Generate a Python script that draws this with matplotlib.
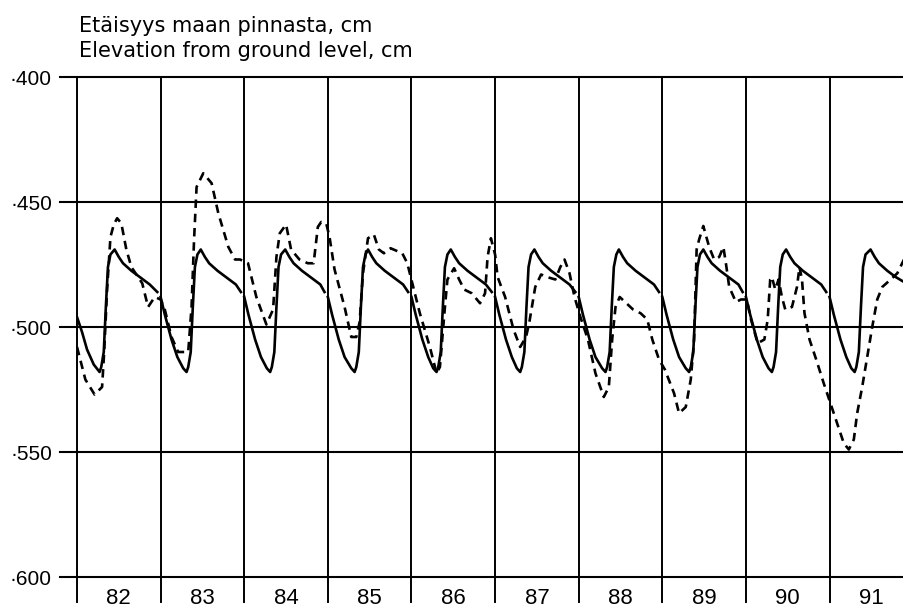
import matplotlib.pyplot as plt

# years on x axis, elevation (cm, negative = below ground) on y axis
years = [82, 83, 84, 85, 86, 87, 88, 89, 90, 91]
year_labels = ['82', '83', '84', '85', '86', '87', '88', '89', '90', '91']
y_ticks = [-400, -450, -500, -550, -600]
y_tick_labels = ['·400', '·450', '·500', '·550', '·600']

# solid curve, read year by year
solid_x = [
    [82.00, 82.06, 82.12, 82.20, 82.27, 82.29, 82.32, 82.345, 82.37, 82.40, 82.45, 82.50, 82.55, 82.65, 82.75, 82.87, 82.96],
    [83.00, 83.05, 83.13, 83.20, 83.27, 83.31, 83.33, 83.36, 83.385, 83.41, 83.44, 83.48, 83.53, 83.58, 83.68, 83.78, 83.90, 83.96],
    [84.00, 84.05, 84.13, 84.20, 84.27, 84.31, 84.33, 84.36, 84.385, 84.41, 84.44, 84.49, 84.54, 84.59, 84.69, 84.79, 84.91, 84.96],
    [85.00, 85.05, 85.13, 85.20, 85.28, 85.32, 85.34, 85.37, 85.395, 85.42, 85.45, 85.48, 85.53, 85.58, 85.68, 85.78, 85.90, 85.96],
    [86.00, 86.05, 86.13, 86.20, 86.26, 86.30, 86.32, 86.35, 86.375, 86.40, 86.43, 86.47, 86.52, 86.57, 86.67, 86.77, 86.89, 86.96],
    [87.00, 87.05, 87.13, 87.20, 87.26, 87.30, 87.32, 87.35, 87.375, 87.40, 87.43, 87.47, 87.52, 87.57, 87.67, 87.77, 87.89, 87.96],
    [88.00, 88.05, 88.13, 88.20, 88.28, 88.32, 88.34, 88.37, 88.395, 88.42, 88.45, 88.48, 88.53, 88.58, 88.68, 88.78, 88.90, 88.96],
    [89.00, 89.05, 89.13, 89.20, 89.28, 89.32, 89.34, 89.37, 89.395, 89.42, 89.45, 89.49, 89.54, 89.59, 89.69, 89.79, 89.91, 89.96],
    [90.00, 90.05, 90.13, 90.20, 90.27, 90.31, 90.33, 90.36, 90.385, 90.41, 90.44, 90.48, 90.53, 90.58, 90.68, 90.78, 90.90, 90.96],
    [91.00, 91.05, 91.13, 91.20, 91.26, 91.30, 91.32, 91.35, 91.375, 91.40, 91.43, 91.49, 91.54, 91.59, 91.69, 91.79, 91.89],
]
solid_y = [
    [-496, -502, -509, -515, -518, -516, -510, -492, -476, -471, -469, -472, -474.5, -477.5, -480, -483, -486],
    [-488, -495, -505, -512, -516.5, -518, -516, -510, -492, -476, -471, -469, -472, -474.5, -477.5, -480, -483, -486],
    [-488, -495, -505, -512, -516.5, -518, -516, -510, -492, -476, -471, -469, -472, -474.5, -477.5, -480, -483, -486],
    [-488, -495, -505, -512, -516.5, -518, -516, -510, -492, -476, -471, -469, -472, -474.5, -477.5, -480, -483, -486],
    [-488, -495, -505, -512, -516.5, -518, -516, -510, -492, -476, -471, -469, -472, -474.5, -477.5, -480, -483, -486],
    [-488, -495, -505, -512, -516.5, -518, -516, -510, -492, -476, -471, -469, -472, -474.5, -477.5, -480, -483, -486],
    [-488, -495, -505, -512, -516.5, -518, -516, -510, -492, -476, -471, -469, -472, -474.5, -477.5, -480, -483, -486],
    [-488, -495, -505, -512, -516.5, -518, -516, -510, -492, -476, -471, -469, -472, -474.5, -477.5, -480, -483, -486],
    [-488, -495, -505, -512, -516.5, -518, -516, -510, -492, -476, -471, -469, -472, -474.5, -477.5, -480, -483, -486],
    [-488, -495, -505, -512, -516.5, -518, -516, -510, -492, -476, -471, -469, -472, -474.5, -477.5, -480, -482],
]

# dashed curve (observed)
dashed_x = [82.00, 82.10, 82.21, 82.30, 82.325, 82.36, 82.40, 82.44, 82.48, 82.53, 82.59, 82.65, 82.78, 82.85, 82.93,
            83.00, 83.05, 83.13, 83.21, 83.33, 83.37, 83.40, 83.43, 83.51, 83.61, 83.69, 83.81, 83.89, 83.95,
            84.045, 84.145, 84.265, 84.345, 84.385, 84.425, 84.50, 84.56, 84.66, 84.76, 84.83, 84.88, 84.92, 84.98,
            85.02, 85.08, 85.20, 85.28, 85.34, 85.38, 85.42, 85.48, 85.55, 85.61, 85.67, 85.75, 85.89, 85.95,
            86.01, 86.10, 86.22, 86.30, 86.34, 86.40, 86.43, 86.51, 86.57, 86.63, 86.72, 86.82, 86.88, 86.91, 86.95,
            87.00, 87.03, 87.12, 87.22, 87.30, 87.37, 87.41, 87.44, 87.48, 87.55, 87.62, 87.72, 87.78, 87.83, 87.89, 87.95,
            88.02, 88.11, 88.20, 88.30, 88.36, 88.40, 88.44, 88.49, 88.57, 88.65, 88.74, 88.82, 88.88, 88.96,
            89.03, 89.14, 89.20, 89.28, 89.34, 89.38, 89.41, 89.44, 89.49, 89.56, 89.62, 89.68, 89.73, 89.76, 89.80, 89.88, 89.94,
            90.01, 90.06, 90.14, 90.22, 90.26, 90.29, 90.31, 90.35, 90.39, 90.43, 90.47, 90.55, 90.61, 90.64, 90.67, 90.70, 90.76, 90.84, 90.93,
            91.01, 91.09, 91.17, 91.23, 91.29, 91.33, 91.39, 91.45, 91.51, 91.57, 91.63, 91.73, 91.81, 91.89]
dashed_y = [-508, -521, -527, -524, -510, -485, -464, -459, -456.5, -458.5, -469, -476, -482.5, -492, -488,
            -489, -493, -504, -510, -510, -492, -465, -444, -438.5, -442.5, -454.5, -468, -473, -473,
            -474.5, -488, -499, -493, -472, -462.5, -459, -469, -473, -474.5, -474.5, -460, -458, -458.5,
            -464, -477, -492, -504, -504, -498, -478.5, -464.5, -463, -469, -470.5, -468.5, -470.5, -474.5,
            -482.5, -494.5, -508, -518.5, -516, -492, -481, -476.5, -481, -485, -486.5, -490.5, -486.5, -472, -464.5,
            -471, -480, -488, -501, -508, -504, -498, -492, -484, -479, -480, -481, -476, -473, -478.5, -488,
            -496, -505, -518.5, -528, -524, -505, -492, -488, -490.5, -493, -494.5, -497, -505, -513,
            -517, -526.5, -534.5, -532, -521, -505, -469, -465, -459.6, -468, -473, -472, -468, -474.5, -484, -490, -489,
            -489, -497, -506.5, -505, -497, -481, -480, -485, -481, -488, -493, -492, -484, -476, -481, -494.5, -505, -513, -522.5,
            -530.5, -538.5, -546.5, -549, -545, -534.5, -524, -512, -500, -489, -484, -481, -478.5, -473]

fig = plt.figure(figsize=(9.04, 6.08), dpi=100)
ax = fig.add_axes([77 / 904, 0, 827 / 904, 531 / 608])
ax.set_xlim(82, 91.89)
ax.set_ylim(-612.4, -400)

# grid: horizontal lines poke out a bit to the left, verticals stop just above the bottom
for v in y_ticks:
    ax.axhline(v, xmin=-0.021, xmax=1, color='black', lw=1.5, clip_on=False)
for yr in years:
    ax.axvline(yr, ymin=0.011, color='black', lw=1.4, clip_on=False)

for xs, ys in zip(solid_x, solid_y):
    ax.plot(xs, ys, color='black', lw=1.9, solid_joinstyle='round')
ax.plot(dashed_x, dashed_y, color='black', lw=1.9, linestyle=(0, (3.2, 2.2)))

for spine in ax.spines.values():
    spine.set_visible(False)
ax.set_xticks([])
ax.set_yticks(y_ticks)
ax.set_yticklabels(y_tick_labels, fontsize=15, family='Liberation Sans')
ax.tick_params(axis='y', length=0, pad=18)

for yr, lab in zip(years, year_labels):
    ax.text(yr + 0.5, -608.4, lab, ha='center', va='center', fontsize=16, family='Liberation Sans')

fig.text(79 / 904, 1 - 32 / 608, 'Etäisyys maan pinnasta, cm', fontsize=15, family='DejaVu Sans', va='baseline')
fig.text(79 / 904, 1 - 57 / 608, 'Elevation from ground level, cm', fontsize=15, family='DejaVu Sans', va='baseline')

plt.savefig('out.png', dpi=100)
